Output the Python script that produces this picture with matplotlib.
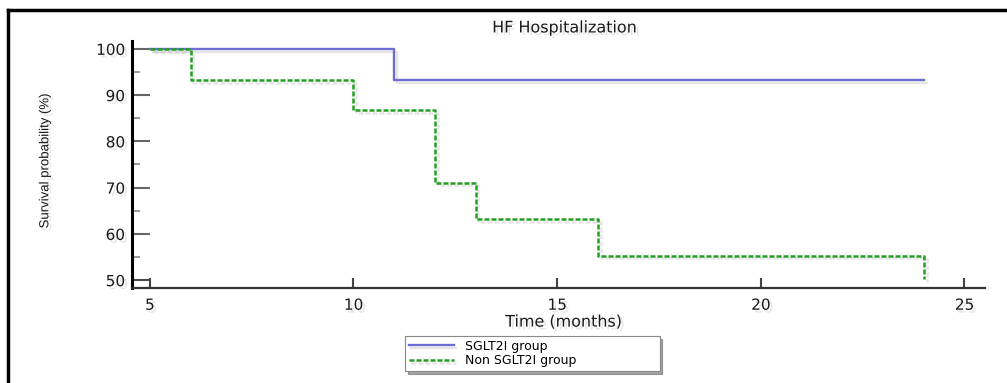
import matplotlib
matplotlib.use('Agg')
import matplotlib.pyplot as plt
import matplotlib.patheffects as pe
from matplotlib.lines import Line2D

# Kaplan-Meier steps
sglt2_t = [5, 11, 24]
sglt2_s = [100, 93.3, 93.3]
non_t = [5, 6, 10, 12, 13, 16, 24]
non_s = [100, 93.3, 86.7, 71.1, 63.2, 55.3, 50.2]

x_ticks = [5, 10, 15, 20, 25]
y_ticks = [50, 60, 70, 80, 90, 100]
y_minor = [55, 65, 75, 85, 95]

labels = ['SGLT2I group', 'Non SGLT2I group']

fig = plt.figure(figsize=(10.07, 3.83), dpi=100)
ax = fig.add_axes([0.131, 0.248, 0.847, 0.645])

shadow = [pe.SimpleLineShadow(offset=(2, -2), shadow_color='gray', alpha=0.2), pe.Normal()]
tshadow = [pe.withSimplePatchShadow(offset=(2, -2), shadow_rgbFace='gray', alpha=0.2)]

ax.step(sglt2_t, sglt2_s, where='post', color='#6c6cd2', lw=1.7, label=labels[0], path_effects=shadow)
ax.step(non_t, non_s, where='post', color='#22a022', lw=1.8, ls=(0, (2, 0.8)), label=labels[1], path_effects=shadow)

ax.set_xlim(4.56, 25.5)
ax.set_ylim(48.3, 101.7)

# little corner mark at origin
ax.plot([4.56, x_ticks[0], x_ticks[0]], [y_ticks[0], y_ticks[0], 48.3], color='#444444', lw=1.2, clip_on=False)

for s in ['top', 'right']:
    ax.spines[s].set_visible(False)
ax.spines['left'].set_linewidth(2.2)
ax.spines['left'].set_color('black')
ax.spines['bottom'].set_linewidth(1.6)
ax.spines['bottom'].set_color('#333333')

ax.set_xticks(x_ticks)
ax.set_yticks(y_ticks)
ax.set_yticks(y_minor, minor=True)
ax.tick_params(axis='y', which='major', direction='in', length=13, width=1.5, color='#666666', pad=5, labelsize=11)
ax.tick_params(axis='y', which='minor', direction='in', length=6, width=1.2, color='#888888')
ax.tick_params(axis='x', which='major', direction='in', length=7, width=1.5, color='#444444', pad=7, labelsize=11)
for lab in ax.get_xticklabels() + ax.get_yticklabels():
    lab.set_family('DejaVu Sans')
    lab.set_color('#1a1a1a')
    lab.set_path_effects(tshadow)

fig.text(0.561, 0.927, 'HF Hospitalization', ha='center', va='center', fontsize=11.5,
         family='DejaVu Sans', color='#1a1a1a', path_effects=tshadow)
fig.text(0.56, 0.159, 'Time (months)', ha='center', va='center', fontsize=11.5,
         family='DejaVu Sans', color='#1a1a1a', path_effects=tshadow)
fig.text(0.045, 0.58, 'Survival probability (%)', ha='center', va='center', rotation=90,
         fontsize=9.5, family='Liberation Sans', color='#1a1a1a', path_effects=tshadow)

leg = fig.legend(loc='lower left', bbox_to_anchor=(0.402, 0.031, 0.253, 0.089), mode='expand',
                 frameon=True, fancybox=False, shadow=True, edgecolor='#888888', handlelength=3.6,
                 handletextpad=0.9, borderpad=0.3, labelspacing=0.15, borderaxespad=0,
                 prop={'family': 'DejaVu Sans', 'size': 9})
leg.get_frame().set_linewidth(0.8)

# outer frame: top and left edges only
fig.add_artist(Line2D([0.008, 0.008], [0, 0.974], color='black', lw=2.5))
fig.add_artist(Line2D([0.008, 1.0], [0.974, 0.974], color='black', lw=2.5))

fig.savefig('out.png', dpi=100)
